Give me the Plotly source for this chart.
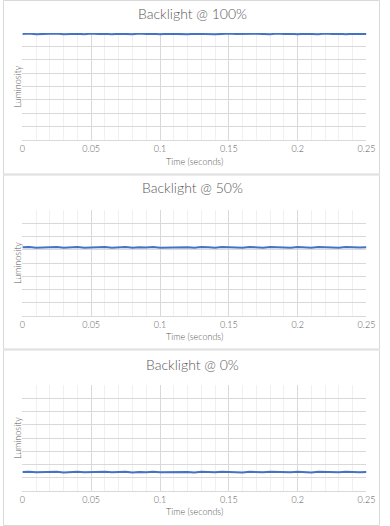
import plotly.graph_objects as go

# ---- data ----
time_s = [0.000, 0.005, 0.010, 0.015, 0.020, 0.025, 0.030, 0.035, 0.040, 0.045,
          0.050, 0.055, 0.060, 0.065, 0.070, 0.075, 0.080, 0.085, 0.090, 0.095,
          0.100, 0.105, 0.110, 0.115, 0.120, 0.125, 0.130, 0.135, 0.140, 0.145,
          0.150, 0.155, 0.160, 0.165, 0.170, 0.175, 0.180, 0.185, 0.190, 0.195,
          0.200, 0.205, 0.210, 0.215, 0.220, 0.225, 0.230, 0.235, 0.240, 0.245,
          0.250]

lum_100 = [7.93, 7.96, 7.91, 7.94, 7.92, 7.97, 7.90, 7.93, 7.95, 7.91,
           7.96, 7.92, 7.94, 7.90, 7.95, 7.93, 7.91, 7.97, 7.92, 7.94,
           7.90, 7.95, 7.93, 7.96, 7.91, 7.94, 7.92, 7.95, 7.90, 7.93,
           7.96, 7.92, 7.94, 7.91, 7.95, 7.93, 7.90, 7.96, 7.92, 7.94,
           7.91, 7.95, 7.93, 7.90, 7.96, 7.92, 7.94, 7.91, 7.95, 7.93,
           7.92]

lum_50 = [5.18, 5.20, 5.16, 5.19, 5.17, 5.21, 5.15, 5.18, 5.20, 5.16,
          5.19, 5.17, 5.21, 5.16, 5.18, 5.20, 5.15, 5.19, 5.17, 5.21,
          5.16, 5.18, 5.20, 5.17, 5.19, 5.15, 5.21, 5.18, 5.16, 5.20,
          5.17, 5.19, 5.15, 5.21, 5.18, 5.16, 5.20, 5.17, 5.19, 5.16,
          5.21, 5.18, 5.15, 5.20, 5.17, 5.19, 5.16, 5.21, 5.18, 5.17,
          5.19]

lum_0 = [1.43, 1.45, 1.41, 1.44, 1.42, 1.46, 1.40, 1.43, 1.45, 1.41,
         1.44, 1.42, 1.46, 1.41, 1.43, 1.45, 1.40, 1.44, 1.42, 1.46,
         1.41, 1.43, 1.45, 1.42, 1.44, 1.40, 1.46, 1.43, 1.41, 1.45,
         1.42, 1.44, 1.40, 1.46, 1.43, 1.41, 1.45, 1.42, 1.44, 1.41,
         1.46, 1.43, 1.40, 1.45, 1.42, 1.44, 1.41, 1.46, 1.43, 1.42,
         1.44]

titles = ["Backlight @ 100%", "Backlight @ 50%", "Backlight @ 0%"]
series = [lum_100, lum_50, lum_0]

# ---- layout geometry (pixels) ----
W, H = 390, 526
panels = [  # (panel top, panel bottom, plot top, plot bottom, title y, xtitle y)
    (0.5, 174, 33, 140, 13, 161),
    (175, 349, 210, 316, 188, 336),
    (350, 525.5, 385, 491, 364, 511),
]
X0, X1 = 20, 375

def py(p):
    return 1 - p / H

def px(p):
    return p / W

FONT = "Lato, 'Open Sans', sans-serif"
TXT = "#595959"
BLUE = "#4472C4"

fig = go.Figure()
layout = dict(
    width=W, height=H,
    margin=dict(l=0, r=0, t=0, b=0),
    paper_bgcolor="white", plot_bgcolor="white",
    showlegend=False,
    font=dict(family=FONT, color=TXT, size=9),
    annotations=[], shapes=[],
)

for i, (ptop, pbot, top, bot, ty, xty) in enumerate(panels):
    n = "" if i == 0 else str(i + 1)
    fig.add_trace(go.Scatter(
        x=time_s, y=series[i], mode="lines",
        line=dict(color=BLUE, width=2),
        xaxis="x" + n, yaxis="y" + n, cliponaxis=False,
    ))
    layout["xaxis" + n] = dict(
        domain=[px(X0), px(X1)], anchor="y" + n,
        range=[0, 0.25], tickvals=[0, 0.05, 0.1, 0.15, 0.2, 0.25],
        ticktext=["0", "0.05", "0.1", "0.15", "0.2", "0.25"],
        showgrid=True, gridcolor="#d9d9d9", gridwidth=1,
        minor=dict(dtick=0.01, tick0=0, showgrid=True, gridcolor="#f0f0f0", gridwidth=1),
        showline=True, linecolor="#d9d9d9", linewidth=1,
        zeroline=False, ticks="", ticklen=0,
        tickfont=dict(size=9, color=TXT, family=FONT, weight=300),
        fixedrange=True,
    )
    layout["yaxis" + n] = dict(
        domain=[py(bot), py(top)], anchor="x" + n,
        range=[0, 8], dtick=1, showticklabels=False,
        showgrid=True, gridcolor="#d9d9d9", gridwidth=1,
        zeroline=False, showline=False, ticks="",
        fixedrange=True,
    )
    layout["annotations"].append(dict(
        text=titles[i], x=0.5, y=py(ty), xref="paper", yref="paper",
        xanchor="center", yanchor="middle", showarrow=False,
        font=dict(size=14, color=TXT, family=FONT, weight=300)))
    layout["annotations"].append(dict(
        text="Time (seconds)", x=px((X0 + X1) / 2), y=py(xty), xref="paper", yref="paper",
        xanchor="center", yanchor="middle", showarrow=False,
        font=dict(size=9, color=TXT, family=FONT, weight=300)))
    layout["annotations"].append(dict(
        text="Luminosity", x=px(14.5), y=py((top + bot) / 2), xref="paper", yref="paper",
        xanchor="center", yanchor="middle", showarrow=False, textangle=-90,
        font=dict(size=9, color=TXT, family=FONT, weight=300)))
    layout["shapes"].append(dict(
        type="rect", xref="paper", yref="paper",
        x0=px(0.5), x1=px(388.5), y0=py(pbot), y1=py(ptop),
        line=dict(color="#d9d9d9", width=1), fillcolor="rgba(0,0,0,0)", layer="below"))

fig.update_layout(**layout)
fig.write_html(
    "out.html",
    config={"displayModeBar": False},
    post_script="document.body.style.margin='0';document.body.style.overflow='hidden';",
)
